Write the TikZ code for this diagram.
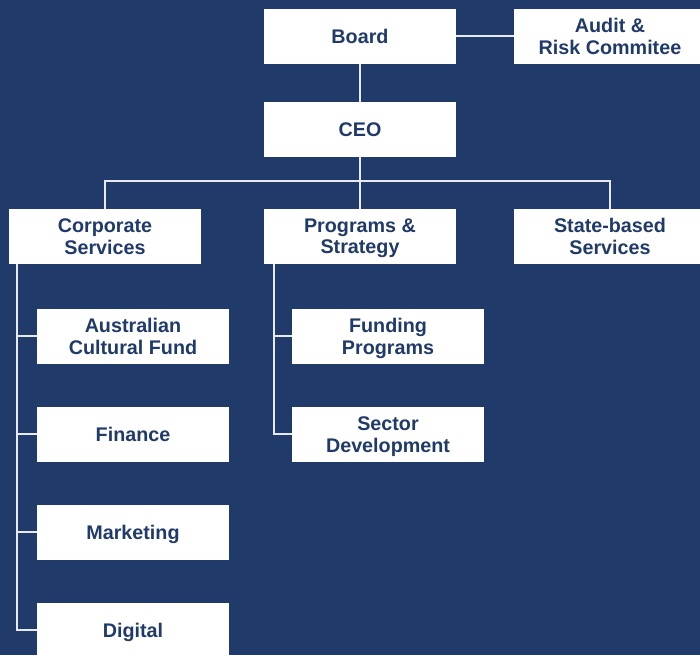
\documentclass[tikz,border=0pt]{standalone}
\usepackage{fontspec}
\setmainfont{Liberation Sans}
\usetikzlibrary{positioning}

\definecolor{orgnavy}{HTML}{203A69}
\definecolor{orgline}{HTML}{E8EAF0}

\tikzset{
  unit/.style={fill=white, text=orgnavy, font=\bfseries\fontsize{14.8}{16}\selectfont,
    minimum width=144pt, minimum height=41.25pt, inner sep=0pt, align=center, text depth=0pt},
  link/.style={draw=orgline, line width=1.5pt},
}

\begin{document}
\begin{tikzpicture}[x=0.75pt,y=-0.75pt]

% page background
\fill[orgnavy] (0,0) rectangle (700,655);
\useasboundingbox (0,0) rectangle (700,655);

% governance
\node[unit] (board) at (360,36.5) {Board};
\node[unit] (audit) at (610,36.5) {Audit \&\\Risk Commitee};
\node[unit] (ceo) at (360,129.5) {CEO};

% divisions
\node[unit] (corp) at (105,236.5) {Corporate\\Services};
\node[unit] (prog) at (360,236.5) {Programs \&\\Strategy};
\node[unit] (state) at (610,236.5) {State-based\\Services};

% corporate services teams
\node[unit] (acf) at (133,336.5) {Australian\\Cultural Fund};
\node[unit] (finance) at (133,434.5) {Finance};
\node[unit] (marketing) at (133,532.5) {Marketing};
\node[unit] (digital) at (133,630.5) {Digital};

% programs teams
\node[unit] (funding) at (388,336.5) {Funding\\Programs};
\node[unit] (sector) at (388,434.5) {Sector\\Development};

% reporting lines
\draw[link] (board) -- (audit);
\draw[link] (board) -- (ceo);
\coordinate (bus) at (360,181);
\draw[link] (ceo) -- (prog);
\draw[link] (corp) |- (bus) -| (state);

\coordinate (corpbus) at ([xshift=6pt]corp.south west);
\draw[link] (corpbus) |- (digital.west);
\foreach \n in {acf, finance, marketing}
  \draw[link] (\n.west) -- (\n.west -| corpbus);

\coordinate (progbus) at ([xshift=7.5pt]prog.south west);
\draw[link] (progbus) |- (sector.west);
\draw[link] (funding.west) -- (funding.west -| progbus);

\end{tikzpicture}
\end{document}
